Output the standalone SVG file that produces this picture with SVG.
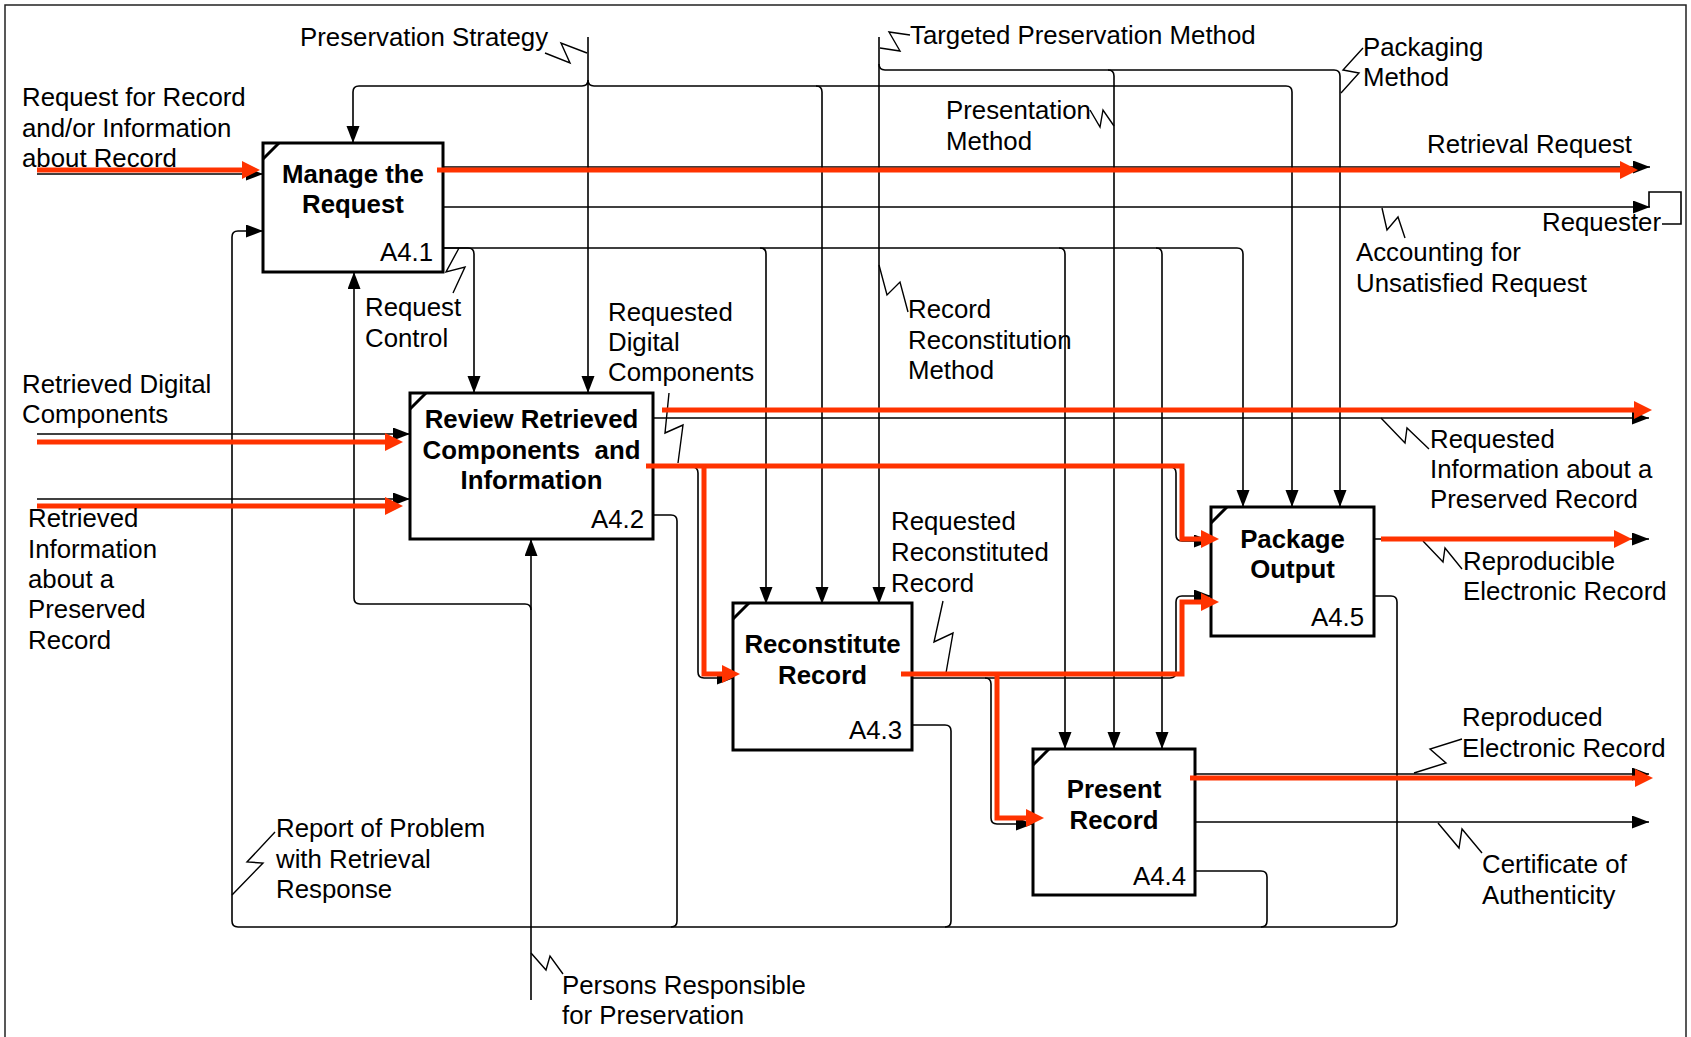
<svg xmlns="http://www.w3.org/2000/svg" width="1691" height="1037" viewBox="0 0 1691 1037">
<style>
text{font-family:"Liberation Sans",Arial,sans-serif;font-size:25.8px;fill:#000}
.t{font-weight:bold;text-anchor:middle}
.n{text-anchor:end}
.c{fill:none;stroke:#000;stroke-width:1.6}
.cm{fill:none;stroke:#000;stroke-width:1.6;marker-end:url(#ah)}
.r{fill:none;stroke:#ff3300;stroke-width:5;stroke-linejoin:miter;marker-end:url(#rh)}
.z{fill:none;stroke:#000;stroke-width:1.4}
.box{fill:#fff;stroke:#000;stroke-width:3}
.crn{stroke:#000;stroke-width:3}
</style>
<defs>
<marker id="ah" markerUnits="userSpaceOnUse" markerWidth="18" markerHeight="14" refX="17" refY="6.5" orient="auto"><path d="M0,0 L17,6.5 L0,13 z" fill="#000"/></marker>
<marker id="rh" markerUnits="userSpaceOnUse" markerWidth="20" markerHeight="20" refX="1" refY="9" orient="auto"><path d="M0,0 L18,9 L0,18 z" fill="#ff3300"/></marker>
</defs>
<rect width="1691" height="1037" fill="#fff"/>
<path d="M5,1037 V5 H1686 V1037" fill="none" stroke="#222" stroke-width="1.5"/>

<g id="connectors">
<path class="cm" d="M37,174 H263"/>
<path class="cm" d="M443,167 H1650"/>
<path class="cm" d="M443,207 H1650"/>
<path class="c" d="M1649,207 V192 H1681 V224 H1662"/>
<path class="cm" d="M443,248 H1237 Q1243,248 1243,254 V507"/>
<path class="cm" d="M443,248 H468 Q474,248 474,254 V393"/>
<path class="cm" d="M760,248 Q766,248 766,254 V604"/>
<path class="cm" d="M1059,248 Q1065,248 1065,254 V749"/>
<path class="cm" d="M1156,248 Q1162,248 1162,254 V749"/>
<path class="cm" d="M588,37 V393"/>
<path class="cm" d="M588,80 Q588,86 582,86 H359 Q353,86 353,92 V143"/>
<path class="cm" d="M588,80 Q588,86 594,86 H1286 Q1292,86 1292,92 V507"/>
<path class="cm" d="M816,86 Q822,86 822,92 V604"/>
<path class="cm" d="M879,37 V604"/>
<path class="cm" d="M879,64 Q879,70 885,70 H1334 Q1340,70 1340,76 V507"/>
<path class="cm" d="M1108,70 Q1114,70 1114,76 V749"/>
<path class="cm" d="M37,434 H410"/>
<path class="cm" d="M37,499 H410"/>
<path class="cm" d="M653,418 H1649"/>
<path class="cm" d="M653,467 H692 Q698,467 698,473 V672 Q698,678 704,678 H734"/>
<path class="cm" d="M698,467 H1170 Q1176,467 1176,473 V535 Q1176,541 1182,541 H1211"/>
<path class="cm" d="M912,678 H985 Q991,678 991,684 V818 Q991,824 997,824 H1033"/>
<path class="cm" d="M985,678 H1170 Q1176,678 1176,672 V602 Q1176,596 1182,596 H1211"/>
<path class="cm" d="M1195,774 H1649"/>
<path class="cm" d="M1195,822 H1649"/>
<path class="cm" d="M1374,539 H1649"/>
<path class="cm" d="M1374,596 H1391 Q1397,596 1397,602 V921 Q1397,927 1391,927 H238 Q232,927 232,921 V237 Q232,231 238,231 H263"/>
<path class="c" d="M1195,871 H1261 Q1267,871 1267,877 V921 Q1267,927 1261,927"/>
<path class="c" d="M912,725 H945 Q951,725 951,731 V921 Q951,927 945,927"/>
<path class="c" d="M653,515 H671 Q677,515 677,521 V921 Q677,927 671,927"/>
<path class="cm" d="M531,1000 V539"/>
<path class="cm" d="M531,610 Q531,604 525,604 H360 Q354,604 354,598 V272"/>
<polyline class="z" points="545,53 570,63 561,43 587,53"/>
<polyline class="z" points="880,48 900,51 889,32 910,35"/>
<polyline class="z" points="1090,110 1100,127 1103,110 1114,126"/>
<polyline class="z" points="1341,93 1359,73 1343,70 1363,48"/>
<polyline class="z" points="453,293 465,267 446,272 459,248"/>
<polyline class="z" points="1382,208 1387,230 1398,217 1405,238"/>
<polyline class="z" points="669,393 665,433 683,425 678,463"/>
<polyline class="z" points="879,265 887,295 900,282 908,312"/>
<polyline class="z" points="1381,418 1405,443 1407,428 1429,449"/>
<polyline class="z" points="1423,541 1443,562 1445,548 1462,569"/>
<polyline class="z" points="943,601 934,642 953,633 946,673"/>
<polyline class="z" points="1414,773 1446,763 1430,749 1462,739"/>
<polyline class="z" points="1438,823 1459,848 1462,829 1482,853"/>
<polyline class="z" points="232,895 263,863 247,862 275,832"/>
<polyline class="z" points="531,953 546,970 550,956 563,974"/>
</g>

<g id="A4.1">
<rect class="box" x="263" y="143" width="180" height="129"/>
<line class="crn" x1="263" y1="159" x2="279" y2="143"/>
<text class="t" x="353" y="183">Manage the</text>
<text class="t" x="353" y="213">Request</text>
<text class="n" x="433" y="261">A4.1</text>
</g>
<g id="A4.2">
<rect class="box" x="410" y="393" width="243" height="146"/>
<line class="crn" x1="410" y1="409" x2="426" y2="393"/>
<text class="t" x="531.5" y="428">Review Retrieved</text>
<text class="t" x="531.5" y="459" xml:space="preserve">Components  and</text>
<text class="t" x="531.5" y="489">Information</text>
<text class="n" x="644" y="528">A4.2</text>
</g>
<g id="A4.3">
<rect class="box" x="733" y="603" width="179" height="147"/>
<line class="crn" x1="733" y1="619" x2="749" y2="603"/>
<text class="t" x="822.5" y="653">Reconstitute</text>
<text class="t" x="822.5" y="684">Record</text>
<text class="n" x="902" y="739">A4.3</text>
</g>
<g id="A4.4">
<rect class="box" x="1033" y="749" width="162" height="146"/>
<line class="crn" x1="1033" y1="765" x2="1049" y2="749"/>
<text class="t" x="1114" y="798">Present</text>
<text class="t" x="1114" y="829">Record</text>
<text class="n" x="1186" y="885">A4.4</text>
</g>
<g id="A4.5">
<rect class="box" x="1211" y="507" width="163" height="129"/>
<line class="crn" x1="1211" y1="523" x2="1227" y2="507"/>
<text class="t" x="1292.5" y="548">Package</text>
<text class="t" x="1292.5" y="578">Output</text>
<text class="n" x="1364" y="626">A4.5</text>
</g>

<g id="red-flow">
<path class="r" d="M37,170 H243"/>
<path class="r" d="M437,170 H1621"/>
<path class="r" d="M37,442 H386"/>
<path class="r" d="M37,506 H386"/>
<path class="r" d="M662,410 H1635"/>
<path class="r" d="M646,466 H1182 V539 H1202"/>
<path class="r" d="M704,466 V674 H723"/>
<path class="r" d="M901,674 H1182 V602 H1202"/>
<path class="r" d="M997,674 V818 H1027"/>
<path class="r" d="M1190,778 H1636"/>
<path class="r" d="M1381,539 H1615"/>
</g>

<g id="labels">
<text x="300" y="46">Preservation Strategy</text>
<text x="910" y="44">Targeted Preservation Method</text>
<text x="1363" y="56">Packaging</text>
<text x="1363" y="86">Method</text>
<text x="946" y="119">Presentation</text>
<text x="946" y="150">Method</text>
<text x="22" y="106">Request for Record</text>
<text x="22" y="137">and/or Information</text>
<text x="22" y="167">about Record</text>
<text x="1427" y="153">Retrieval Request</text>
<text x="1542" y="231">Requester</text>
<text x="1356" y="261">Accounting for</text>
<text x="1356" y="292">Unsatisfied Request</text>
<text x="365" y="316">Request</text>
<text x="365" y="347">Control</text>
<text x="608" y="321">Requested</text>
<text x="608" y="351">Digital</text>
<text x="608" y="381">Components</text>
<text x="908" y="318">Record</text>
<text x="908" y="349">Reconstitution</text>
<text x="908" y="379">Method</text>
<text x="22" y="393">Retrieved Digital</text>
<text x="22" y="423">Components</text>
<text x="28" y="527">Retrieved</text>
<text x="28" y="558">Information</text>
<text x="28" y="588">about a</text>
<text x="28" y="618">Preserved</text>
<text x="28" y="649">Record</text>
<text x="1430" y="448">Requested</text>
<text x="1430" y="478">Information about a</text>
<text x="1430" y="508">Preserved Record</text>
<text x="1463" y="570">Reproducible</text>
<text x="1463" y="600">Electronic Record</text>
<text x="891" y="530">Requested</text>
<text x="891" y="561">Reconstituted</text>
<text x="891" y="592">Record</text>
<text x="1462" y="726">Reproduced</text>
<text x="1462" y="757">Electronic Record</text>
<text x="1482" y="873">Certificate of</text>
<text x="1482" y="904">Authenticity</text>
<text x="276" y="837">Report of Problem</text>
<text x="276" y="868">with Retrieval</text>
<text x="276" y="898">Response</text>
<text x="562" y="994">Persons Responsible</text>
<text x="562" y="1024">for Preservation</text>
</g>
</svg>
